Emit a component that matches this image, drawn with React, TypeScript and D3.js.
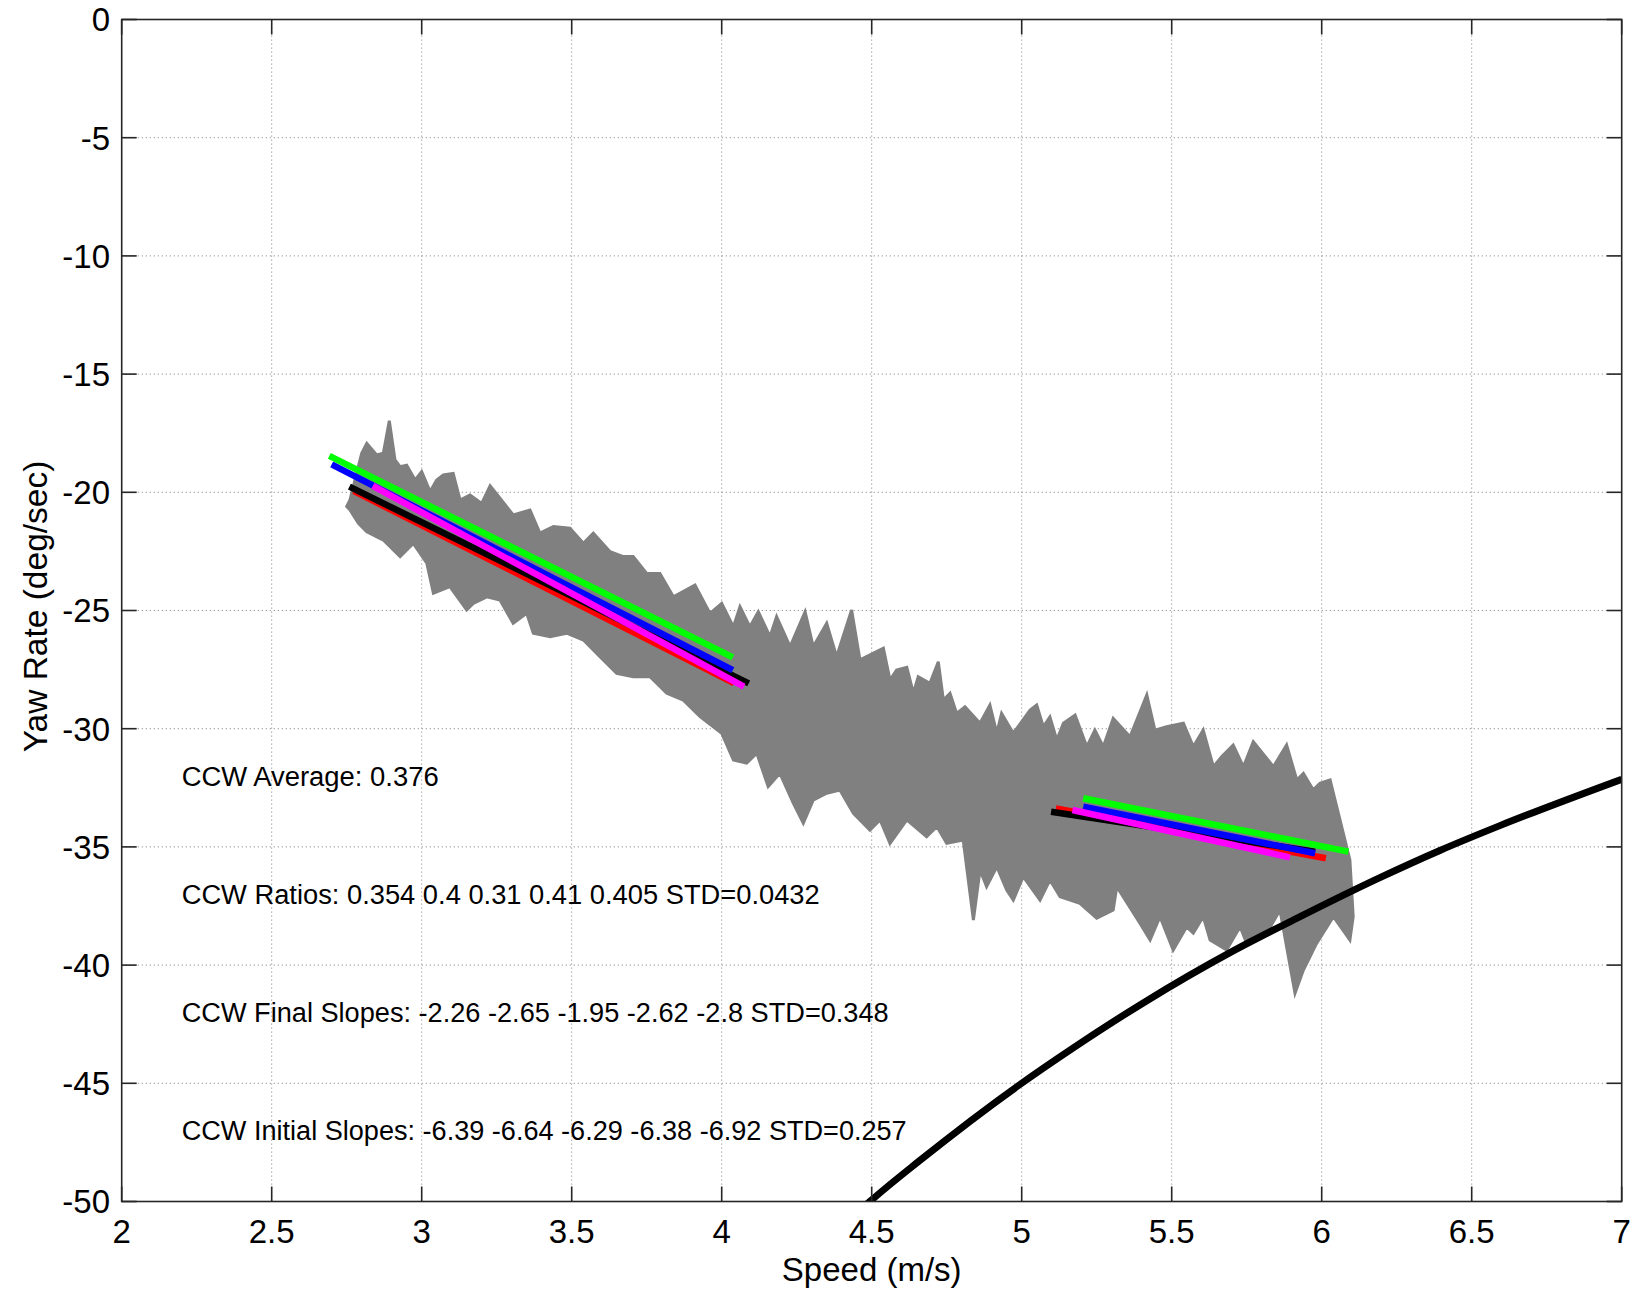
import React from 'react';
import * as d3 from 'd3';

// ---------- data ----------
const xTickValues = [2, 2.5, 3, 3.5, 4, 4.5, 5, 5.5, 6, 6.5, 7];
const yTickValues = [0, -5, -10, -15, -20, -25, -30, -35, -40, -45, -50];

// upper envelope of the gray measured traces (speed, yaw rate)
const traceUpper: [number, number][] = [
  [2.761, -20.32], [2.8, -18.35], [2.817, -17.93], [2.85, -18.42], [2.872, -18.35], [2.892, -16.97],
  [2.911, -18.63], [2.928, -18.92], [2.95, -18.85], [2.978, -19.48], [3.0, -19.13], [3.028, -19.97],
  [3.05, -19.48], [3.072, -19.27], [3.105, -19.2], [3.128, -20.33], [3.161, -20.11], [3.2, -20.47],
  [3.228, -19.73], [3.261, -20.25], [3.305, -20.96], [3.361, -20.75], [3.394, -21.73], [3.439, -21.45],
  [3.494, -21.52], [3.539, -22.16], [3.572, -21.73], [3.628, -22.51], [3.672, -22.72], [3.705, -22.72],
  [3.75, -23.43], [3.794, -23.43], [3.839, -24.42], [3.911, -23.92], [3.961, -25.12], [4.0, -24.7],
  [4.039, -25.69], [4.061, -24.84], [4.094, -25.69], [4.122, -25.05], [4.161, -26.11], [4.183, -25.26],
  [4.228, -26.53], [4.278, -25.05], [4.305, -26.53], [4.35, -25.54], [4.383, -26.95], [4.433, -24.98],
  [4.461, -27.09], [4.539, -26.6], [4.561, -27.94], [4.583, -27.52], [4.617, -27.4], [4.639, -28.5],
  [4.655, -27.8], [4.694, -28.08], [4.722, -27.17], [4.739, -28.79], [4.761, -28.5], [4.783, -29.35],
  [4.811, -29.07], [4.861, -29.77], [4.894, -29.0], [4.917, -30.19], [4.933, -29.35], [4.972, -30.19],
  [5.028, -29.21], [5.05, -29.0], [5.072, -29.92], [5.094, -29.5], [5.117, -30.48], [5.139, -29.77],
  [5.178, -29.42], [5.217, -30.76], [5.244, -30.06], [5.272, -30.76], [5.305, -29.56], [5.361, -30.34],
  [5.417, -28.57], [5.444, -30.06], [5.483, -29.92], [5.539, -29.77], [5.572, -30.76], [5.605, -30.06],
  [5.639, -31.61], [5.667, -31.18], [5.705, -30.69], [5.739, -31.61], [5.772, -30.55], [5.839, -31.61],
  [5.883, -30.69], [5.917, -32.17], [5.939, -31.89], [5.972, -32.59], [5.994, -32.31], [6.028, -32.17],
  [6.061, -33.86], [6.094, -35.55],
];

// lower envelope of the gray measured traces
const traceLower: [number, number][] = [
  [2.75, -20.6], [2.761, -20.75], [2.789, -21.31], [2.817, -21.67], [2.872, -22.02], [2.928, -22.72],
  [2.972, -22.16], [3.017, -23.0], [3.039, -24.27], [3.094, -23.99], [3.15, -24.98], [3.172, -24.7],
  [3.217, -24.42], [3.261, -24.56], [3.305, -25.54], [3.35, -25.12], [3.372, -25.96], [3.428, -26.11],
  [3.483, -25.96], [3.539, -26.25], [3.594, -26.95], [3.65, -27.66], [3.705, -27.8], [3.761, -27.8],
  [3.817, -28.5], [3.872, -28.79], [3.928, -29.49], [4.0, -30.19], [4.039, -31.32], [4.083, -31.46],
  [4.117, -31.04], [4.155, -32.45], [4.194, -31.89], [4.239, -33.16], [4.272, -34.0], [4.305, -33.02],
  [4.35, -32.73], [4.394, -32.59], [4.439, -33.58], [4.494, -34.29], [4.528, -33.86], [4.561, -34.85],
  [4.617, -33.86], [4.683, -34.57], [4.717, -34.14], [4.75, -34.85], [4.805, -34.71], [4.839, -38.09],
  [4.861, -35.98], [4.883, -36.68], [4.917, -35.84], [4.95, -36.82], [4.972, -37.25], [5.005, -36.26],
  [5.061, -37.25], [5.094, -36.4], [5.128, -37.11], [5.194, -37.39], [5.25, -38.02], [5.305, -37.67],
  [5.317, -36.68], [5.394, -38.23], [5.428, -38.94], [5.461, -37.95], [5.505, -39.36], [5.55, -38.38],
  [5.572, -38.65], [5.605, -37.95], [5.628, -38.94], [5.683, -39.36], [5.728, -38.38], [5.75, -39.08],
  [5.817, -38.65], [5.861, -37.67], [5.883, -39.22], [5.911, -41.19], [5.939, -40.21], [5.983, -39.08],
  [6.039, -37.95], [6.094, -38.94], [6.105, -37.95],
];

// fitted lines: [x0, y0, x1, y1]
const fitColors = ['#ff0000', '#000000', '#0000ff', '#ff00ff', '#00ff00'];
const initialFits: [number, number, number, number][] = [
  [2.772, -19.97, 4.04, -28.1],   // red
  [2.759, -19.76, 4.09, -28.08],  // black
  [2.7, -18.82, 4.037, -27.52],   // blue
  [2.837, -19.73, 4.074, -28.22], // magenta
  [2.692, -18.46, 4.037, -26.98], // green
];
const finalFits: [number, number, number, number][] = [
  [5.114, -33.37, 6.014, -35.48], // red
  [5.098, -33.51, 5.978, -35.2],  // black
  [5.205, -33.3, 5.978, -35.27],  // blue
  [5.169, -33.44, 5.894, -35.44], // magenta
  [5.205, -32.94, 6.089, -35.2],  // green
];

// black reference curve
const limitCurve: [number, number][] = [
  [4.45, -50.5], [4.494, -50], [4.657, -48.3], [4.994, -45.05], [5.172, -43.5], [5.405, -41.6],
  [5.705, -39.4], [5.928, -37.95], [6.194, -36.3], [6.394, -35.15], [6.594, -34.1], [7.0, -32.14],
];

const annotations = [
  { x: 2.2, y: -32, text: 'CCW Average: 0.376', width: 257 },
  { x: 2.2, y: -37, text: 'CCW Ratios: 0.354 0.4 0.31 0.41 0.405 STD=0.0432', width: 638 },
  { x: 2.2, y: -42, text: 'CCW Final Slopes: -2.26 -2.65 -1.95 -2.62 -2.8 STD=0.348', width: 707 },
  { x: 2.2, y: -47, text: 'CCW Initial Slopes: -6.39 -6.64 -6.29 -6.38 -6.92 STD=0.257', width: 725 },
];

// ---------- layout ----------
const W = 1637;
const H = 1294;
const left = 121.7;
const right = 1621.7;
const top = 19.5;
const bottom = 1201.5;
const FONT = "'Liberation Sans', Arial, Helvetica, sans-serif";

export default function App() {
  const x = d3.scaleLinear().domain([2, 7]).range([left, right]);
  const y = d3.scaleLinear().domain([-50, 0]).range([bottom, top]);

  const poly = [...traceUpper, ...traceLower.slice().reverse()];
  const polyPath = d3.line<[number, number]>().x(d => x(d[0])).y(d => y(d[1]))(poly) + 'Z';
  const curvePath = d3.line<[number, number]>().x(d => x(d[0])).y(d => y(d[1])).curve(d3.curveMonotoneX)(limitCurve) || '';

  const tickLen = 15;
  const gridStyle = { stroke: '#9a9a9a', strokeWidth: 1, strokeDasharray: '1.3 2.7' };

  return (
    <svg width={W} height={H} style={{ position: 'absolute', left: 0, top: 0, background: '#fff' }} fontFamily={FONT}>
      <defs>
        <clipPath id="plotClip">
          <rect x={left} y={top} width={right - left} height={bottom - top} />
        </clipPath>
      </defs>
      <rect x={0} y={0} width={W} height={H} fill="#fff" />

      {/* grid */}
      {xTickValues.filter(v => v > 2 && v < 7).map(v => (
        <line key={'gx' + v} x1={x(v)} x2={x(v)} y1={top} y2={bottom} {...gridStyle} />
      ))}
      {yTickValues.filter(v => v < 0 && v > -50).map(v => (
        <line key={'gy' + v} x1={left} x2={right} y1={y(v)} y2={y(v)} {...gridStyle} />
      ))}

      <g clipPath="url(#plotClip)">
        {/* measured traces */}
        <path d={polyPath} fill="#808080" stroke="#808080" strokeWidth={3} strokeLinejoin="miter" />

        {/* fitted lines */}
        {initialFits.map((f, i) => (
          <line key={'if' + i} x1={x(f[0])} y1={y(f[1])} x2={x(f[2])} y2={y(f[3])}
            stroke={fitColors[i]} strokeWidth={i === 0 ? 5 : 6.5} />
        ))}
        {finalFits.map((f, i) => (
          <line key={'ff' + i} x1={x(f[0])} y1={y(f[1])} x2={x(f[2])} y2={y(f[3])}
            stroke={fitColors[i]} strokeWidth={6.5} />
        ))}

        {/* reference curve */}
        <path d={curvePath} fill="none" stroke="#000" strokeWidth={7} />
      </g>

      {/* annotations */}
      {annotations.map((a, i) => (
        <text key={'an' + i} x={x(a.x)} y={y(a.y)} dy="0.36em" fontSize={27}
          textLength={a.width} lengthAdjust="spacingAndGlyphs" fill="#000">{a.text}</text>
      ))}

      {/* axes box */}
      <rect x={left} y={top} width={right - left} height={bottom - top} fill="none" stroke="#262626" strokeWidth={1.6} />

      {/* ticks */}
      {xTickValues.map(v => (
        <g key={'tx' + v}>
          <line x1={x(v)} x2={x(v)} y1={bottom} y2={bottom - tickLen} stroke="#262626" strokeWidth={1.6} />
          <line x1={x(v)} x2={x(v)} y1={top} y2={top + tickLen} stroke="#262626" strokeWidth={1.6} />
          <text x={x(v)} y={1242.5} fontSize={33} textAnchor="middle" fill="#000">{String(v)}</text>
        </g>
      ))}
      {yTickValues.map(v => (
        <g key={'ty' + v}>
          <line x1={left} x2={left + tickLen} y1={y(v)} y2={y(v)} stroke="#262626" strokeWidth={1.6} />
          <line x1={right} x2={right - tickLen} y1={y(v)} y2={y(v)} stroke="#262626" strokeWidth={1.6} />
          <text x={110} y={y(v)} dy="0.36em" fontSize={33} textAnchor="end" fill="#000">{String(v)}</text>
        </g>
      ))}

      {/* axis labels */}
      <text x={(left + right) / 2} y={1281} fontSize={33} textAnchor="middle" fill="#000">Speed (m/s)</text>
      <text transform={`translate(47, ${(top + bottom) / 2 - 4}) rotate(-90)`} fontSize={33.5} textAnchor="middle" fill="#000">Yaw Rate (deg/sec)</text>
    </svg>
  );
}
